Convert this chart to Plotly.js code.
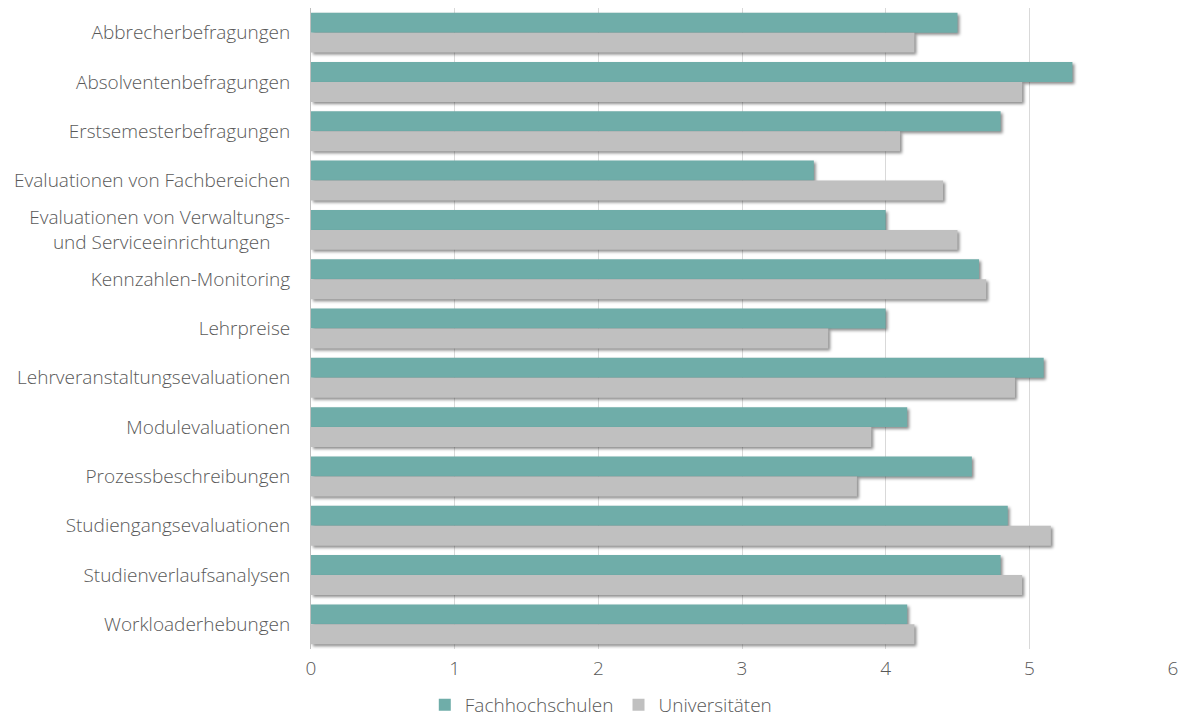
<!DOCTYPE html>
<html>
<head>
<meta charset="utf-8">
<script src="https://cdn.plot.ly/plotly-3.0.1.min.js"></script>
<style>
html,body{margin:0;padding:0;background:#fff;}
#chart{width:1179px;height:724px;}
.barlayer .point path{filter:drop-shadow(2px 2px 1.5px rgba(0,0,0,0.45));}
</style>
</head>
<body>
<div id="chart"></div>
<script>
const categories = [
  "Abbrecherbefragungen",
  "Absolventenbefragungen",
  "Erstsemesterbefragungen",
  "Evaluationen von Fachbereichen",
  "Evaluationen von Verwaltungs-<br>und Serviceeinrichtungen\u00A0\u00A0\u00A0\u00A0",
  "Kennzahlen-Monitoring",
  "Lehrpreise",
  "Lehrveranstaltungsevaluationen",
  "Modulevaluationen",
  "Prozessbeschreibungen",
  "Studiengangsevaluationen",
  "Studienverlaufsanalysen",
  "Workloaderhebungen"
];
const fachhochschulen = [4.5, 5.3, 4.8, 3.5, 4.0, 4.65, 4.0, 5.1, 4.15, 4.6, 4.85, 4.8, 4.15];
const universitaeten  = [4.2, 4.95, 4.1, 4.4, 4.5, 4.7, 3.6, 4.9, 3.9, 3.8, 5.15, 4.95, 4.2];
const xTicks = [0, 1, 2, 3, 4, 5, 6];

const traces = [
  {type:'bar', orientation:'h', name:'Fachhochschulen', y:categories, x:fachhochschulen,
   marker:{color:'#6fada9'}, hoverinfo:'x+name'},
  {type:'bar', orientation:'h', name:'Universitäten', y:categories, x:universitaeten,
   marker:{color:'#c0c0c0'}, hoverinfo:'x+name'}
];

const layout = {
  width:1179, height:724,
  margin:{l:311, r:6, t:8, b:75, autoexpand:false},
  paper_bgcolor:'#fff', plot_bgcolor:'#fff',
  font:{family:'"Open Sans", "Segoe UI", sans-serif', size:19, color:'#595959', weight:300},
  barmode:'group', bargap:0.19, bargroupgap:0,
  showlegend:true,
  legend:{orientation:'h', x:0.51, xref:'container', xanchor:'center', y:0.0, yref:'container', yanchor:'bottom',
          font:{size:19, color:'#595959'}, itemwidth:30, traceorder:'normal', borderwidth:0},
  xaxis:{range:[0,6], tickvals:xTicks, showgrid:true, gridcolor:'#d9d9d9', gridwidth:1,
         zeroline:false, showline:false, ticks:'', ticklabelstandoff:6,
         tickfont:{size:19, color:'#595959'}, fixedrange:true},
  yaxis:{autorange:'reversed', showline:true, linecolor:'#bfbfbf', linewidth:1, ticks:'',
         ticklabelstandoff:16, tickfont:{size:19, color:'#595959'}, showgrid:false, fixedrange:true}
};

Plotly.newPlot('chart', traces, layout, {displayModeBar:false});
</script>
</body>
</html>
